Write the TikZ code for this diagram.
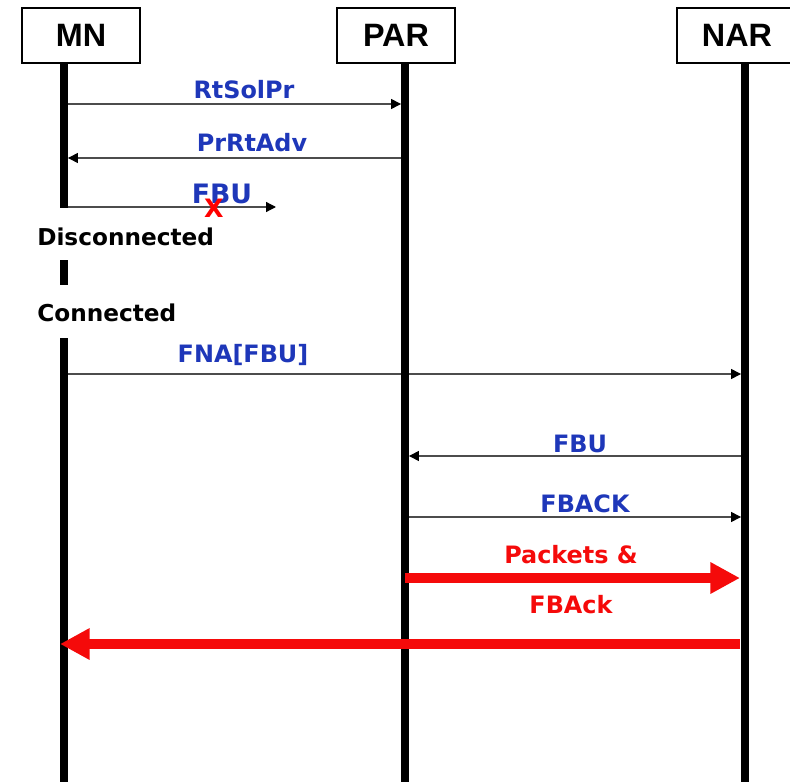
\documentclass[tikz,border=0pt]{standalone}
\usepackage{fontspec}
\setmainfont{DejaVu Sans}
\newfontfamily\boxfont{Liberation Sans}
\usetikzlibrary{arrows.meta,positioning}
\definecolor{msgblue}{RGB}{30,55,185}
\definecolor{pktred}{RGB}{245,10,10}
\tikzset{
  actor/.style={draw, line width=1.1pt, minimum width=2.95cm, minimum height=1.375cm,
    inner sep=0pt, font=\boxfont\bfseries\fontsize{23}{23}\selectfont},
  lifeline/.style={line width=5.6pt},
  msg/.style={draw=black!70, line width=0.9pt, shorten >=2.8pt,
    -{Triangle[length=7pt,width=7pt,color=black]}},
  bigmsg/.style={draw=pktred, line width=7pt, -{Triangle[length=21pt,width=21pt]}},
  msglabel/.style={text=msgblue, anchor=base, inner sep=0pt,
    font=\bfseries\fontsize{17}{17}\selectfont},
  pktlabel/.style={msglabel, text=pktred},
  linkstate/.style={anchor=base west, inner sep=0pt,
    font=\bfseries\fontsize{16.5}{16.5}\selectfont},
}
\begin{document}
\begin{tikzpicture}[x=0.025cm, y=-0.025cm]
      \useasboundingbox (0,0) rectangle (790,782);

      % Boxes of the three entities
      \node[actor] (mn) at (81,35.5) {MN};
      \node[actor] (par) at (396,35.5) {PAR};
      \node[actor, minimum width=3cm] (nar) at (737,35.5) {NAR};

      % Lifeline points
      \coordinate (mnTop) at (64,63);
      \coordinate (mnCut) at (64,208);
      \coordinate (mnGapA) at (64,260);
      \coordinate (mnGapB) at (64,285);
      \coordinate (mnBack) at (64,338);
      \coordinate (mnBot) at (64,782);
      \coordinate (parTop) at (405,63);
      \coordinate (parBot) at (405,782);
      \coordinate (narTop) at (745,63);
      \coordinate (narBot) at (745,782);

      % Message ends
      \coordinate (mnRts) at (64,104);
      \coordinate (parRts) at (405,104);
      \coordinate (parAdv) at (405,158);
      \coordinate (mnAdv) at (64,158);
      \coordinate (mnFbu) at (60,207);
      \coordinate (fbuLost) at (276,207);
      \coordinate (mnFna) at (60,374);
      \coordinate (narFna) at (745,374);
      \coordinate (narFbu) at (745,456);
      \coordinate (parFbu) at (405,456);
      \coordinate (parAck) at (408,517);
      \coordinate (narAck) at (745,517);
      \coordinate (parPkt) at (405,578);
      \coordinate (narPkt) at (740,578);
      \coordinate (narFwd) at (740,644);
      \coordinate (mnFwd) at (60,644);

      % Thin messages
      \draw[msg] (mnRts) -- (parRts);
      \draw[msg] (parAdv) -- (mnAdv);
      \draw[msg, shorten >=0pt] (mnFbu) -- (fbuLost);
      \draw[msg] (mnFna) -- (narFna);
      \draw[msg] (narFbu) -- (parFbu);
      \draw[msg] (parAck) -- (narAck);

      % Lifelines (MN is cut while disconnected)
      \draw[lifeline] (mnTop) -- (mnCut);
      \draw[lifeline] (mnGapA) -- (mnGapB);
      \draw[lifeline] (mnBack) -- (mnBot);
      \draw[lifeline] (parTop) -- (parBot);
      \draw[lifeline] (narTop) -- (narBot);

      % Packets forwarded
      \draw[bigmsg] (parPkt) -- (narPkt);
      \draw[bigmsg] (narFwd) -- (mnFwd);

      % Labels
      \node[msglabel] (lRts) at (244,99) {RtSolPr};
      \node[msglabel] (lAdv) at (252,152) {PrRtAdv};
      \node[msglabel, font=\bfseries\fontsize{19}{19}\selectfont] (lFbu) at (222,203) {FBU};
      \node[text=red, inner sep=0pt, font=\bfseries\fontsize{18}{18}\selectfont] (lost) at (214,208) {X};
      \node[linkstate] (off) at (37,245) {Disconnected};
      \node[linkstate] (on) at (37,321) {Connected};
      \node[msglabel] (lFna) at (243,362) {FNA[FBU]};
      \node[msglabel] (lFbu2) at (580,452) {FBU};
      \node[msglabel] (lAck) at (585,512) {FBACK};
      \node[pktlabel] (lPkt) at (571,563) {Packets \&};
      \node[pktlabel] (lAck2) at (571,613) {FBAck};
    \end{tikzpicture}
\end{document}
